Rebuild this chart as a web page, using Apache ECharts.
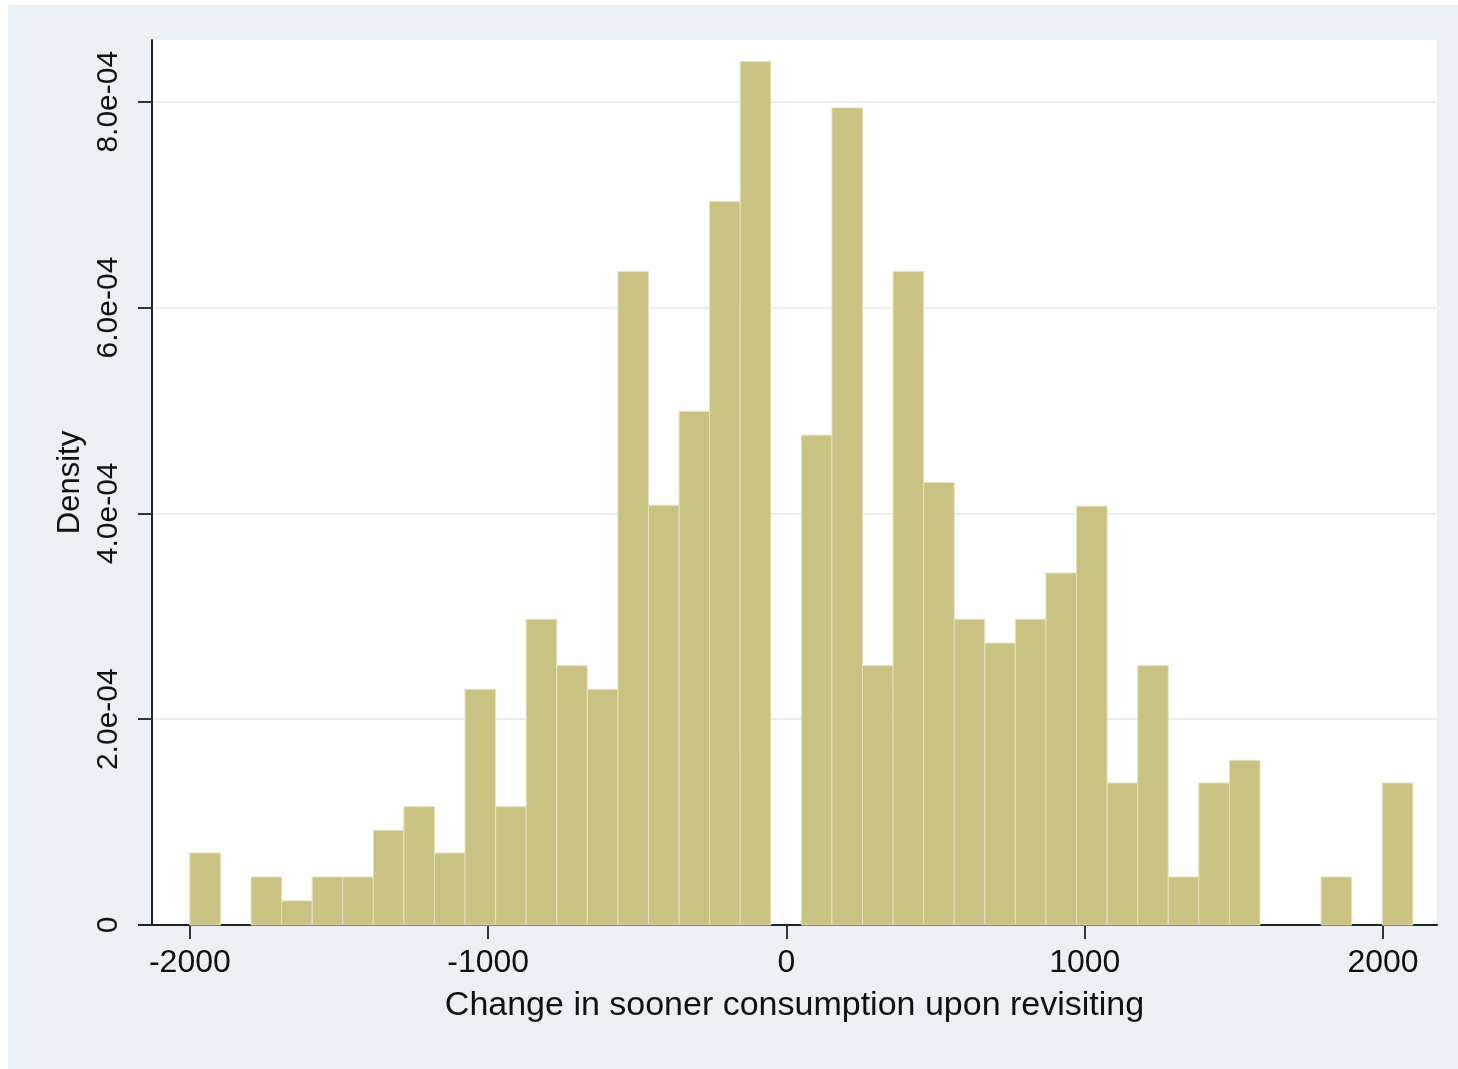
<!DOCTYPE html>
<html>
<head>
<meta charset="utf-8">
<script src="https://cdn.jsdelivr.net/npm/echarts@6/dist/echarts.min.js"></script>
<style>
html,body{margin:0;padding:0;background:#ffffff;}
#wrap{position:absolute;left:8px;top:5px;width:1450px;height:1064px;background:#eaf1f4;}
#chart{width:1450px;height:1064px;}
</style>
</head>
<body>
<div id="wrap"><div id="chart"></div></div>
<script>
// Histogram: 40 bins starting at -2000, width 102.5
var binStart = -2000;
var binWidth = 102.5;
var densities = [
  0.70e-4, 0, 0.467e-4, 0.235e-4, 0.467e-4, 0.467e-4, 0.92e-4, 1.15e-4, 0.70e-4, 2.29e-4,
  1.15e-4, 2.97e-4, 2.52e-4, 2.29e-4, 6.35e-4, 4.08e-4, 4.99e-4, 7.03e-4, 8.39e-4, 0,
  4.76e-4, 7.94e-4, 2.52e-4, 6.35e-4, 4.30e-4, 2.97e-4, 2.74e-4, 2.97e-4, 3.42e-4, 4.07e-4,
  1.38e-4, 2.52e-4, 0.467e-4, 1.38e-4, 1.60e-4, 0, 0, 0.467e-4, 0, 1.38e-4
];
var xTicks = [-2000, -1000, 0, 1000, 2000];
var yTicks = [0, 2e-4, 4e-4, 6e-4, 8e-4];

var data = densities.map(function (d, i) {
  var s = binStart + i * binWidth;
  return [s, s + binWidth, d];
});

function fmtY(v) {
  if (Math.abs(v) < 1e-12) return '0';
  var e = Math.floor(Math.log10(v) + 1e-9);
  var m = v / Math.pow(10, e);
  var es = Math.abs(e) < 10 ? '0' + Math.abs(e) : '' + Math.abs(e);
  return m.toFixed(1) + 'e' + (e < 0 ? '-' : '+') + es;
}

var chart = echarts.init(document.getElementById('chart'));
var font = '"Liberation Sans", Arial, Helvetica, sans-serif';
var option = {
  backgroundColor: 'transparent',
  animation: false,
  grid: {
    left: 144, right: 21, top: 35, bottom: 144,
    show: true, backgroundColor: '#ffffff', borderWidth: 0
  },
  xAxis: {
    type: 'value',
    min: -2127, max: 2181,
    name: 'Change in sooner consumption upon revisiting',
    nameLocation: 'middle',
    nameGap: 64,
    nameTextStyle: { fontFamily: font, fontSize: 34, color: '#111' },
    axisLine: { show: true, onZero: false, lineStyle: { color: '#222', width: 2 } },
    axisTick: { show: true, length: 14, customValues: xTicks, lineStyle: { color: '#333', width: 2 } },
    axisLabel: {
      customValues: xTicks, fontFamily: font, fontSize: 32, color: '#111', margin: 22,
      formatter: function (v) { return String(v); }
    },
    splitLine: { show: false }
  },
  yAxis: {
    type: 'value',
    min: 0, max: 8.6e-4, interval: 2e-4,
    name: 'Density',
    nameLocation: 'middle',
    nameRotate: 90,
    nameGap: 66,
    nameTextStyle: { fontFamily: font, fontSize: 31, color: '#111' },
    axisLine: { show: true, onZero: false, lineStyle: { color: '#222', width: 2 } },
    axisTick: { show: true, length: 14, customValues: yTicks, lineStyle: { color: '#333', width: 2 } },
    axisLabel: {
      customValues: yTicks,
      rotate: 90, fontFamily: font, fontSize: 30, color: '#111', margin: 28,
      formatter: fmtY
    },
    splitLine: { show: true, lineStyle: { color: '#e8eef1', width: 2 } }
  },
  series: [{
    type: 'custom',
    data: data,
    encode: { x: [0, 1], y: 2 },
    renderItem: function (params, api) {
      var h = api.value(2);
      if (!(h > 0)) return null;
      var p0 = api.coord([api.value(0), h]);
      var p1 = api.coord([api.value(1), 0]);
      return {
        type: 'rect',
        shape: { x: p0[0], y: p0[1], width: p1[0] - p0[0], height: p1[1] - p0[1] },
        style: { fill: '#cac283', stroke: '#e6e1bd', lineWidth: 1 }
      };
    }
  }]
};
chart.setOption(option);

// small extension of the x axis line to the left of the y axis (Stata style)
var origin = chart.convertToPixel({ gridIndex: 0 }, [-2127, 0]);
chart.setOption({
  graphic: [{
    type: 'line',
    shape: { x1: origin[0] - 14, y1: origin[1], x2: origin[0], y2: origin[1] },
    style: { stroke: '#222', lineWidth: 2 },
    z: 10
  }]
});
</script>
</body>
</html>
